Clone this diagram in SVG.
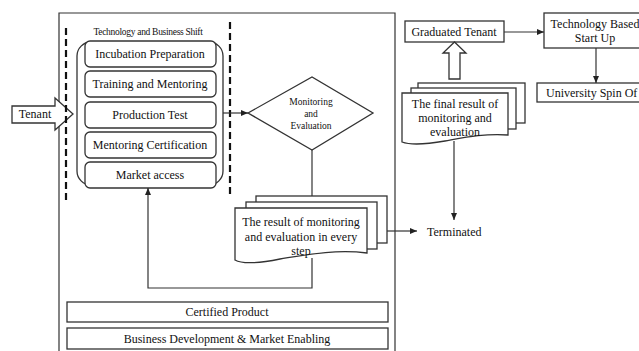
<svg xmlns="http://www.w3.org/2000/svg" width="639" height="351" viewBox="0 0 639 351" font-family="'Liberation Serif', 'Times New Roman', serif">
<style>
text{font-family:'Liberation Serif','Times New Roman',serif;fill:#111;font-size:12px}
.c{text-anchor:middle}
.s{fill:#fff;stroke:#333;stroke-width:1.3}
.l{fill:none;stroke:#333;stroke-width:1.2}
.d{fill:none;stroke:#111;stroke-width:2.2;stroke-dasharray:7 4}
</style>
<defs>
<marker id="ah" markerWidth="8" markerHeight="6" refX="7" refY="3" orient="auto" markerUnits="userSpaceOnUse">
<path d="M0,0 L7,3 L0,6 Z" fill="#222"/>
</marker>
</defs>
<rect width="639" height="351" fill="#fff"/>

<g id="frame"><path class="l" d="M59,352 V13 H395 V352"/></g>

<g id="tenant">
<polygon class="s" points="12,106 55,106 55,98 73,114 55,130 55,123 12,123"/>
<text x="35" y="118" class="c">Tenant</text>
</g>

<g id="shift">
<line class="d" x1="66" y1="28" x2="66" y2="201"/>
<line class="d" x1="230" y1="22" x2="230" y2="196"/>
<text x="148" y="35" class="c" style="font-size:9.5px;letter-spacing:-0.3px">Technology and Business Shift</text>
<rect class="s" x="77" y="42" width="146" height="143" rx="14"/>
</g>

<g id="incubation"><rect class="s" x="85" y="41" width="131" height="26" rx="5"/><text x="150" y="58" class="c">Incubation Preparation</text></g>
<g id="training"><rect class="s" x="85" y="71" width="131" height="26" rx="5"/><text x="150" y="88" class="c">Training and Mentoring</text></g>
<g id="production"><rect class="s" x="85" y="102" width="131" height="26" rx="5"/><text x="150" y="119" class="c">Production Test</text></g>
<g id="mentoring"><rect class="s" x="85" y="132" width="131" height="26" rx="5"/><text x="150" y="149" class="c">Mentoring Certification</text></g>
<g id="market"><rect class="s" x="85" y="162" width="131" height="26" rx="5"/><text x="150" y="179" class="c">Market access</text></g>

<g id="monitoring">
<polygon class="s" points="248,113 312,77 373,113 312,150"/>
<text x="311" y="105" class="c" style="font-size:9.5px">Monitoring</text>
<text x="311" y="117" class="c" style="font-size:9.5px">and</text>
<text x="311" y="129" class="c" style="font-size:9.5px">Evaluation</text>
</g>

<g id="step-result">
<rect class="s" x="256" y="196" width="131" height="47"/>
<rect class="s" x="246" y="202" width="131" height="47"/>
<path class="s" d="M235,208 H367 V253 C335,249 305,255 280,259 C260,263 242,264 235,260 Z"/>
<text x="301" y="226" class="c">The result of monitoring</text>
<text x="301" y="241" class="c">and evaluation in every</text>
<text x="301" y="255" class="c">step</text>
</g>

<g id="terminated"><text x="427" y="236">Terminated</text></g>

<g id="certified"><rect class="s" x="67" y="302" width="321" height="20"/><text x="227" y="316" class="c">Certified Product</text></g>
<g id="bizdev"><rect class="s" x="67" y="328" width="321" height="21"/><text x="227" y="343" class="c">Business Development &amp; Market Enabling</text></g>

<g id="final-result">
<rect class="s" x="418" y="83" width="107" height="40"/>
<rect class="s" x="411" y="88" width="105" height="41"/>
<path class="s" d="M402,93 H508 V135 C485,133 462,138 445,141 C428,144 410,145 402,142 Z"/>
<text x="455" y="108" class="c">The final result of</text>
<text x="455" y="122" class="c">monitoring and</text>
<text x="455" y="136" class="c">evaluation</text>
</g>

<g id="graduated"><rect class="s" x="405" y="21" width="99" height="21"/><text x="454" y="36" class="c">Graduated Tenant</text></g>

<g id="startup"><rect class="s" x="544" y="13" width="100" height="35"/><text x="595" y="28" class="c">Technology Based</text><text x="595" y="42" class="c">Start Up</text></g>

<g id="spinoff"><rect class="s" x="537" y="83" width="110" height="19"/><text x="546" y="97">University Spin Of</text></g>

<g id="connectors">
<polygon class="s" points="449,79 449,53 443,53 454.5,42 466,53 460,53 460,79"/>
<line class="l" x1="223" y1="113" x2="248" y2="113" marker-end="url(#ah)"/>
<line class="l" x1="312" y1="150" x2="312" y2="196"/>
<polyline class="l" points="312,258 312,288 148,288 148,188" marker-end="url(#ah)"/>
<line class="l" x1="387" y1="231" x2="417" y2="231" marker-end="url(#ah)"/>
<line class="l" x1="454" y1="141" x2="454" y2="220" marker-end="url(#ah)"/>
<line class="l" x1="504" y1="32" x2="544" y2="32" marker-end="url(#ah)"/>
<line class="l" x1="596" y1="48" x2="596" y2="83" marker-end="url(#ah)"/>
</g>
</svg>
